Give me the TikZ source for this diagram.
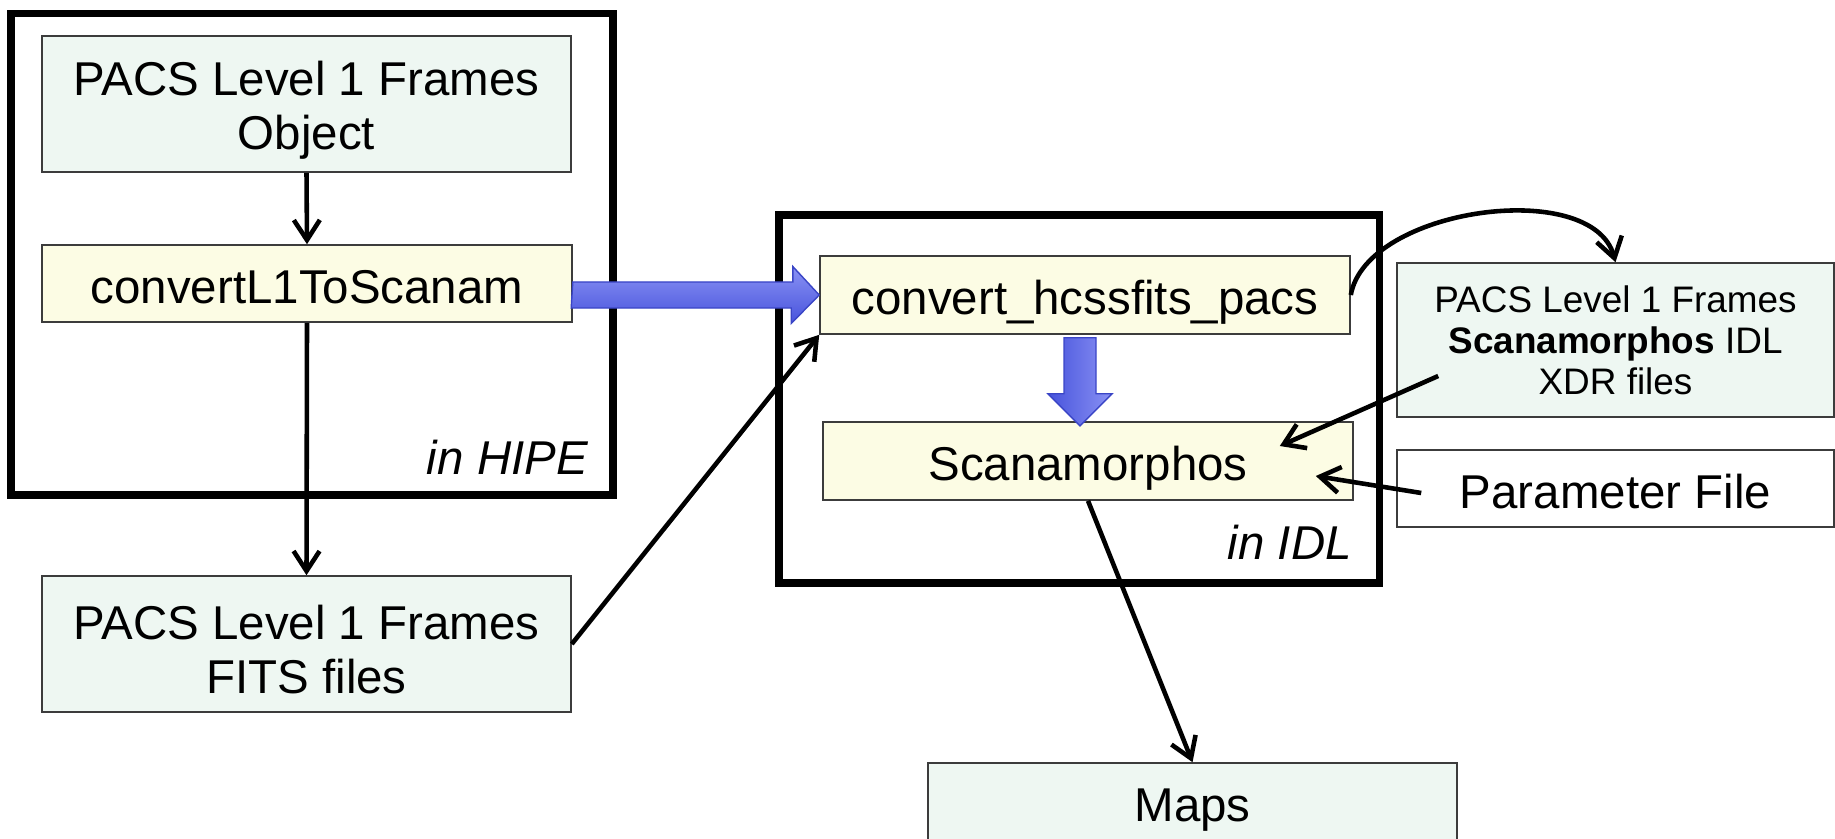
\documentclass[tikz,border=0pt]{standalone}
\usepackage{fontspec}
\setmainfont{Liberation Sans}
\usepackage{xcolor}
\usepackage{tikz}
\usetikzlibrary{positioning,arrows.meta,calc}

\definecolor{boxgreen}{HTML}{EEF7F2}
\definecolor{boxyellow}{HTML}{FCFCE4}
\definecolor{boxline}{HTML}{3C3C3C}
\definecolor{bluelight}{HTML}{8A92F4}
\definecolor{bluedark}{HTML}{4753DC}
\definecolor{blueline}{HTML}{3A45C6}

\begin{document}
\begin{tikzpicture}[>={Straight Barb[length=0.4cm,width=0.52cm]},
  box/.style={draw=boxline, line width=0.9pt, rectangle, inner sep=0pt,
    font=\fontsize{27}{30.7}\selectfont, text height=25.6pt, text depth=3pt},
  twoline/.style={align=center, text height=, text depth=},
  greenbox/.style={box, fill=boxgreen},
  yellowbox/.style={box, fill=boxyellow},
  frame/.style={draw=black, line width=4pt},
  conn/.style={->, line width=2.6pt},
  bigarrow/.style={draw=blueline, line width=0.8pt}]
\useasboundingbox (0,0) rectangle (36.7,-16.78);

% frames
\draw[frame] (0.22,-0.27) rectangle (12.26,-9.9);
\draw[frame] (15.58,-4.3) rectangle (27.58,-11.66);

% HIPE nodes
\node[greenbox, twoline, minimum width=10.58cm, minimum height=2.72cm] (obj) at (6.13,-2.08) {\rule{0pt}{0.97em}PACS Level 1 Frames\\Object};
\node[yellowbox, minimum width=10.6cm, minimum height=1.54cm] (conv) at (6.14,-5.67) {convertL1ToScanam};
\node[anchor=base east, font=\fontsize{27}{30.7}\selectfont\itshape] (hipe) at (11.88,-9.48) {in HIPE};
\node[greenbox, twoline, minimum width=10.58cm, minimum height=2.72cm] (fits) at (6.13,-12.88) {\rule{0pt}{0.97em}PACS Level 1 Frames\\FITS files};

% IDL nodes
\node[yellowbox, minimum width=10.6cm, minimum height=1.56cm] (hcss) at (21.7,-5.9) {convert\_hcssfits\_pacs};
\node[yellowbox, minimum width=10.6cm, minimum height=1.56cm] (scan) at (21.76,-9.22) {Scanamorphos};
\node[anchor=base east, font=\fontsize{27}{30.7}\selectfont\itshape] (idl) at (27.16,-11.18) {in IDL};

% files on the right
\node[greenbox, twoline, minimum width=8.74cm, minimum height=3.08cm, font=\fontsize{21}{23.3}\selectfont] (xdr) at (32.31,-6.8) {PACS Level 1 Frames\\\textbf{Scanamorphos} IDL\\XDR files};
\node[box, fill=white, minimum width=8.74cm, minimum height=1.54cm] (param) at (32.31,-9.77) {Parameter File};
\node[greenbox, minimum width=10.58cm, minimum height=1.56cm] (maps) at (23.85,-16.04) {Maps};

% arrows
\draw[conn] (obj.south) -- (conv.north);
\draw[conn] (conv.south) -- (fits.north);
\draw[conn] (fits.east) -- (hcss.south west);
\draw[conn] (hcss.east) to[out=80,in=105,looseness=0.85] (xdr.north);
\draw[conn] ($(xdr.west)+(0.84,-0.72)$) -- ($(scan.east)+(-1.48,0.3)$);
\draw[conn] ($(param.west)+(0.5,-0.09)$) -- ($(scan.east)+(-0.76,-0.3)$);
\draw[conn] (scan.south) -- (maps.north);

% blue arrows
\shade[bigarrow, top color=bluelight, bottom color=bluedark]
  ($(conv.east |- hcss.west)+(0,0.26)$) -- ++(4.4,0) -- ++(0,0.31)
  -- (hcss.west) -- ++(-0.56,-0.57) -- ++(0,0.31) -- ++(-4.4,0) -- cycle;
\shade[bigarrow, left color=bluedark, right color=bluelight]
  ($(hcss.south)+(-0.42,-0.06)$) -- ++(0,-1.12) -- ++(-0.32,0) -- ++(0.64,-0.64)
  -- ++(0.64,0.64) -- ++(-0.32,0) -- ++(0,1.12) -- cycle;
\end{tikzpicture}
\end{document}
